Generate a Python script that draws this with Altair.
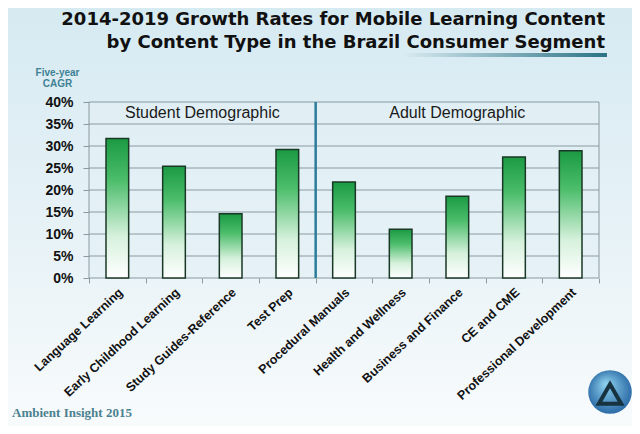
import altair as alt
import pandas as pd

# ---- data ----
categories = [
    "Language Learning",
    "Early Childhood Learning",
    "Study Guides-Reference",
    "Test Prep",
    "Procedural  Manuals",
    "Health and Wellness",
    "Business and Finance",
    "CE and CME",
    "Professional Development",
]
cagr = [0.317, 0.254, 0.146, 0.292, 0.218, 0.111, 0.186, 0.275, 0.289]

grid_values = [0.05, 0.10, 0.15, 0.20, 0.25, 0.30, 0.35]
y_ticks = [0.0, 0.05, 0.10, 0.15, 0.20, 0.25, 0.30, 0.35, 0.40]

divider_category = ["Procedural  Manuals"]
student_label = ["Student Demographic"]
student_anchor = ["Study Guides-Reference"]
adult_label = ["Adult Demographic"]
adult_anchor = ["Business and Finance"]
header_level = 0.375

title_line1 = ["2014-2019 Growth Rates for Mobile Learning Content"]
title_line2 = ["by Content Type in the Brazil Consumer Segment"]
footer_text = ["Ambient Insight  2015"]

df = pd.DataFrame({"category": categories, "cagr": cagr})
grid_df = pd.DataFrame({"cagr": grid_values})
div_df = pd.DataFrame({"category": divider_category})
stu_df = pd.DataFrame({"category": student_anchor, "label": student_label, "cagr": [header_level]})
adu_df = pd.DataFrame({"category": adult_anchor, "label": adult_label, "cagr": [header_level]})
one = pd.DataFrame({"k": [0]})
foot_df = pd.DataFrame({"t": footer_text})
t1_df = pd.DataFrame({"t": title_line1})
t2_df = pd.DataFrame({"t": title_line2})

W, H = 510, 176
PAD = {"left": 81, "top": 94, "right": 33, "bottom": 148}

x_scale = alt.Scale(domain=categories, paddingInner=0, paddingOuter=0)
y_scale = alt.Scale(domain=[0, 0.4], nice=False)

x_axis = alt.Axis(
    title=None,
    labelAngle=-43,
    labelAlign="right",
    labelBaseline="middle",
    labelFont="Liberation Sans",
    labelFontWeight="bold",
    labelFontSize=12.5,
    labelColor="#111111",
    labelPadding=7,
    labelOffset=3,
    tickBand="extent",
    ticks=True,
    tickSize=5,
    tickColor="#8a9aa2",
    domain=False,
    grid=False,
    zindex=1,
)
y_axis = alt.Axis(
    values=y_ticks,
    format=".0%",
    title=["Five-year", "CAGR"],
    titleAngle=0,
    titleAlign="center",
    titleBaseline="top",
    titleX=-32,
    titleY=-35,
    titleFont="Liberation Sans",
    titleFontSize=10,
    titleFontWeight="bold",
    titleColor="#3f8194",
    titleLineHeight=11,
    labelFont="Liberation Sans",
    labelFontWeight="bold",
    labelFontSize=14,
    labelColor="#111111",
    labelPadding=10,
    tickSize=6,
    tickColor="#8a9aa2",
    domain=False,
    grid=False,
    zindex=1,
)


def xe(band=0.5):
    return alt.X("category:N", scale=x_scale, sort=categories, axis=x_axis, bandPosition=band)


def ye():
    return alt.Y("cagr:Q", scale=y_scale, axis=y_axis)


# page background gradient
bg = alt.Chart(one).mark_rect(
    fill=alt.Gradient(
        gradient="linear", x1=0, y1=0, x2=0, y2=1,
        stops=[alt.GradientStop(offset=0, color="#d6eaf2"),
               alt.GradientStop(offset=0.6, color="#e9f3f7"),
               alt.GradientStop(offset=1, color="#f8fbfc")],
    )
).encode(
    x=alt.value(-PAD["left"]), x2=alt.value(W + PAD["right"]),
    y=alt.value(-PAD["top"]), y2=alt.value(H + PAD["bottom"]),
)

# plot frame
frame = alt.Chart(one).mark_rect(
    fill="#e2f0f5", fillOpacity=0.6, stroke="#8a9aa2", strokeWidth=1
).encode(x=alt.value(0), x2=alt.value("width"), y=alt.value(0), y2=alt.value("height"))

grid = alt.Chart(grid_df).mark_rule(color="#8a9aa2", strokeWidth=1).encode(y=ye())

bars = alt.Chart(df).mark_bar(
    width=alt.RelativeBandSize(0.4),
    fill=alt.Gradient(
        gradient="linear", x1=0, y1=0, x2=0, y2=1,
        stops=[alt.GradientStop(offset=0, color="#1b9a43"),
               alt.GradientStop(offset=0.3, color="#4cbd6b"),
               alt.GradientStop(offset=0.7, color="#d6f1dc"),
               alt.GradientStop(offset=1, color="#ffffff")],
    ),
    stroke="#1a3826",
    strokeWidth=1.5,
).encode(x=alt.X("category:N", scale=x_scale, sort=categories, axis=x_axis), y=ye())

divider = alt.Chart(div_df).mark_rule(color="#2b7c9a", strokeWidth=2.5).encode(x=xe(0))

stu = alt.Chart(stu_df).mark_text(
    font="Liberation Sans", fontSize=16, color="#1a1a1a", baseline="middle"
).encode(x=xe(0), y=ye(), text="label:N")
adu = alt.Chart(adu_df).mark_text(
    font="Liberation Sans", fontSize=16, color="#1a1a1a", baseline="middle"
).encode(x=xe(0.5), y=ye(), text="label:N")

title1 = alt.Chart(t1_df).mark_text(
    font="DejaVu Sans", fontSize=18, fontWeight="bold", color="#111111",
    align="right", baseline="middle",
).encode(x=alt.value(W + 6), y=alt.value(-82), text="t:N")
title2 = alt.Chart(t2_df).mark_text(
    font="DejaVu Sans", fontSize=18, fontWeight="bold", color="#111111",
    align="right", baseline="middle",
).encode(x=alt.value(W + 6), y=alt.value(-59), text="t:N")

underline = alt.Chart(one).mark_rect(
    fill=alt.Gradient(
        gradient="linear", x1=0, y1=0, x2=1, y2=0,
        stops=[alt.GradientStop(offset=0, color="#dcedf3"),
               alt.GradientStop(offset=1, color="#2a7385")],
    )
).encode(x=alt.value(311), x2=alt.value(518), y=alt.value(-49), y2=alt.value(-45))

footer = alt.Chart(foot_df).mark_text(
    font="Liberation Serif", fontSize=13, fontWeight="bold", color="#4b8190",
    align="left", baseline="middle",
).encode(x=alt.value(-77), y=alt.value(311), text="t:N")

logo = alt.Chart(one).mark_point(
    shape="circle", filled=True, size=1900,
    fill=alt.Gradient(
        gradient="radial", x1=0.4, y1=0.3, x2=0.5, y2=0.5, r1=0, r2=0.6,
        stops=[alt.GradientStop(offset=0, color="#8fd3ee"),
               alt.GradientStop(offset=1, color="#1f5e9e")],
    ),
    opacity=1,
).encode(x=alt.value(521), y=alt.value(290))
logo_tri = alt.Chart(one).mark_point(
    shape="triangle-up", filled=False, size=500, stroke="#16333f", strokeWidth=4, opacity=1
).encode(x=alt.value(521), y=alt.value(292))

chart = alt.layer(
    bg, frame, grid, bars, divider, stu, adu, title1, title2, underline, footer, logo, logo_tri
).properties(
    width=W,
    height=H,
    padding=PAD,
    autosize=alt.AutoSizeParams(type="none"),
    background="#e6f2f6",
).configure_view(stroke=None)

chart.save("out.html", embed_options={"renderer": "svg", "actions": False})
